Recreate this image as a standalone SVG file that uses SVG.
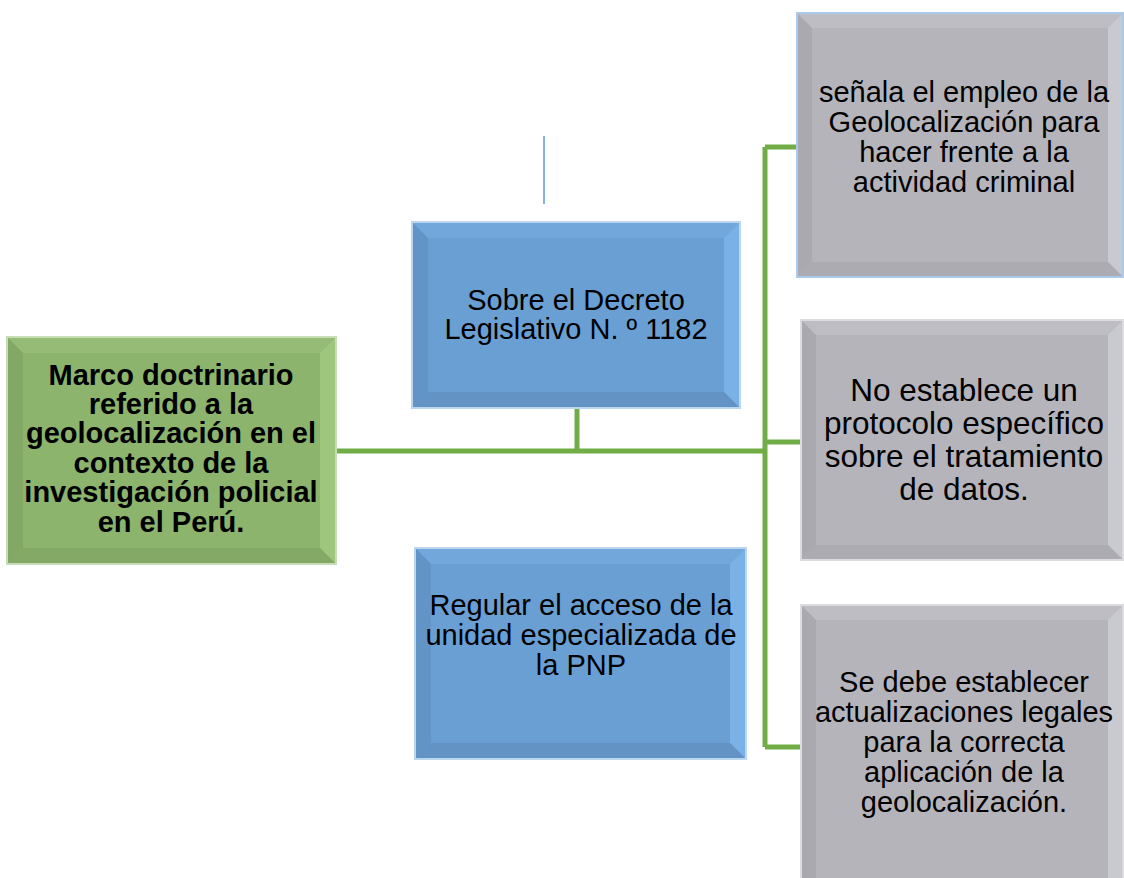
<svg xmlns="http://www.w3.org/2000/svg" width="1124" height="878" viewBox="0 0 1124 878">
<style>
text{font-family:"Liberation Sans",Arial,sans-serif;fill:#000;text-anchor:middle}
.r{font-size:29px}
.b{font-size:29px;font-weight:bold}
.big{font-size:31.5px}
.conn{stroke:#70ad47;stroke-width:5;fill:none}
.gF{fill:#8db46d}.gT{fill:#96bb76}.gL{fill:#83a765}.gR{fill:#9ec67d}.gB{fill:#84a866}
.bF{fill:#6a9fd4}.bT{fill:#72a7dc}.bL{fill:#6394c8}.bR{fill:#7ab2e8}.bB{fill:#6393c5}
.yF{fill:#b5b4ba}.yT{fill:#bebdc3}.yL{fill:#aaa9af}.yR{fill:#c9c9d0}.yB{fill:#acabb1}
.yO{fill:none;stroke:#a8cbe9;stroke-width:2}
.gO{fill:none;stroke:#c9dcb8;stroke-width:2}
.bO{fill:none;stroke:#bcd6ef;stroke-width:2}
</style>
<rect width="1124" height="878" fill="#fff"/>
<g id="connectors">
<path class="conn" d="M335 451 H765"/>
<path class="conn" d="M577 407 V451"/>
<path class="conn" d="M765 147 V747"/>
<path class="conn" d="M765 147 H797"/>
<path class="conn" d="M765 442 H801"/>
<path class="conn" d="M765 747 H801"/>
<line x1="544" y1="136" x2="544" y2="204" stroke="#5b9bd5" stroke-width="1.5"/>
</g>
<g id="marco">
<rect class="gO" x="7" y="337" width="329" height="227"/>
<rect class="gF" x="8" y="338" width="327" height="225"/>
<polygon class="gT" points="8,338 335,338 320,353 23,353"/>
<polygon class="gL" points="8,338 23,353 23,548 8,563"/>
<polygon class="gR" points="335,338 335,563 320,548 320,353"/>
<polygon class="gB" points="8,563 23,548 320,548 335,563"/>
<text class="b" x="171" y="385">Marco doctrinario</text>
<text class="b" x="171" y="414">referido a la</text>
<text class="b" x="171" y="443">geolocalización en el</text>
<text class="b" x="171" y="473">contexto de la</text>
<text class="b" x="171" y="502">investigación policial</text>
<text class="b" x="171" y="532">en el Perú.</text>
</g>
<g id="decreto">
<rect class="bO" x="412" y="222" width="328" height="186"/>
<rect class="bF" x="413" y="223" width="326" height="184"/>
<polygon class="bT" points="413,223 739,223 724,238 428,238"/>
<polygon class="bL" points="413,223 428,238 428,392 413,407"/>
<polygon class="bR" points="739,223 739,407 724,392 724,238"/>
<polygon class="bB" points="413,407 428,392 724,392 739,407"/>
<text class="r" x="576" y="310">Sobre el Decreto</text>
<text class="r" x="576" y="339">Legislativo N. º 1182</text>
</g>
<g id="regular">
<rect class="bO" x="415" y="548" width="331" height="211"/>
<rect class="bF" x="416" y="549" width="329" height="209"/>
<polygon class="bT" points="416,549 745,549 730,564 431,564"/>
<polygon class="bL" points="416,549 431,564 431,743 416,758"/>
<polygon class="bR" points="745,549 745,758 730,743 730,564"/>
<polygon class="bB" points="416,758 431,743 730,743 745,758"/>
<text class="r" x="581" y="615">Regular el acceso de la</text>
<text class="r" x="581" y="645">unidad especializada de</text>
<text class="r" x="581" y="675">la PNP</text>
</g>
<g id="senala">
<rect class="yF" x="797" y="13" width="326" height="264"/>
<polygon class="yT" points="797,13 1123,13 1108,28 812,28"/>
<polygon class="yL" points="797,13 812,28 812,262 797,277"/>
<polygon class="yR" points="1123,13 1123,277 1108,262 1108,28"/>
<polygon class="yB" points="797,277 812,262 1108,262 1123,277"/>
<rect class="yO" x="797" y="13" width="326" height="264"/>
<text class="r" x="964" y="102">señala el empleo de la</text>
<text class="r" x="964" y="132">Geolocalización para</text>
<text class="r" x="964" y="162">hacer frente a la</text>
<text class="r" x="964" y="192">actividad criminal</text>
</g>
<g id="protocolo">
<rect class="yF" x="801" y="320" width="322" height="240"/>
<polygon class="yT" points="801,320 1123,320 1108,335 816,335"/>
<polygon class="yL" points="801,320 816,335 816,545 801,560"/>
<polygon class="yR" points="1123,320 1123,560 1108,545 1108,335"/>
<polygon class="yB" points="801,560 816,545 1108,545 1123,560"/>
<rect fill="none" stroke="#dcdce0" stroke-width="2" x="801" y="320" width="322" height="240"/>
<text class="big" x="964" y="401">No establece un</text>
<text class="big" x="964" y="434">protocolo específico</text>
<text class="big" x="964" y="467">sobre el tratamiento</text>
<text class="big" x="964" y="500">de datos.</text>
</g>
<g id="actualizaciones">
<rect class="yF" x="801" y="605" width="322" height="290"/>
<polygon class="yT" points="801,605 1123,605 1108,620 816,620"/>
<polygon class="yL" points="801,605 816,620 816,895 801,895"/>
<polygon class="yR" points="1123,605 1123,895 1108,895 1108,620"/>
<rect fill="none" stroke="#dcdce0" stroke-width="2" x="801" y="605" width="322" height="290"/>
<text class="r" x="964" y="692">Se debe establecer</text>
<text class="r" x="964" y="722">actualizaciones legales</text>
<text class="r" x="964" y="752">para la correcta</text>
<text class="r" x="964" y="782">aplicación de la</text>
<text class="r" x="964" y="812">geolocalización.</text>
</g>
</svg>
